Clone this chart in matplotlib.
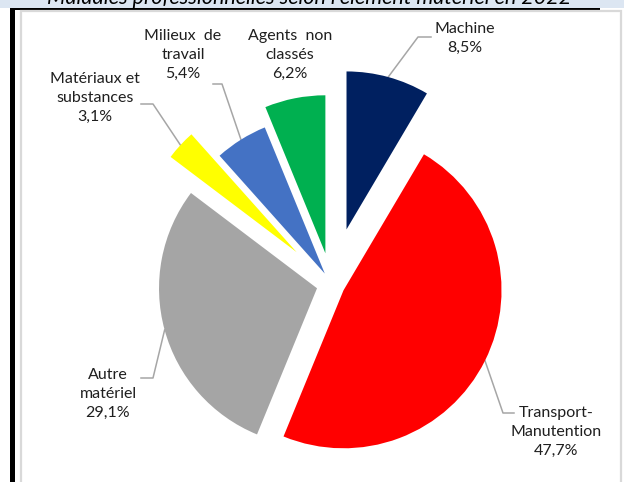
import numpy as np
import matplotlib.pyplot as plt
from matplotlib.patches import Rectangle

# shares by "élément matériel", clockwise from 12 o'clock
categories = ["Machine", "Transport-\nManutention", "Autre\nmatériel",
              "Matériaux et\nsubstances", "Milieux  de\ntravail", "Agents  non\nclassés"]
shares = [8.5, 47.7, 29.1, 3.1, 5.4, 6.2]
colors = ["#002060", "#FF0000", "#A5A5A5", "#FFFF00", "#4472C4", "#00B050"]
explode = [0.36, 0.085, 0.095, 0.30, 0.08, 0.20]
title = "Maladies professionnelles selon l'élément matériel en 2022"

W, H = 624, 482
fig = plt.figure(figsize=(W / 100, H / 100), dpi=100)
ax = fig.add_axes([0, 0, 1, 1])


def py(y):
    # top-down pixel row -> data y
    return H - y


# page furniture: caption band, black rule, light chart frame
ax.add_patch(Rectangle((0, py(8)), W, 8, facecolor="#DCE6F2", edgecolor="none", zorder=0))
ax.add_patch(Rectangle((10, py(10)), 590, 2.5, facecolor="black", edgecolor="none", zorder=1))
ax.add_patch(Rectangle((10, 0), 4.5, py(8), facecolor="black", edgecolor="none", zorder=1))
ax.add_patch(Rectangle((21, -10), 600, py(11) + 10, facecolor="white",
                       edgecolor="#D9D9D9", linewidth=1.6, zorder=1))
ax.text(309, py(3.5), title, ha="center", va="baseline", fontsize=15.5,
        style="italic", family="Lato", color="black", zorder=0.5)

center = (331.5, py(284.3))
radius = 158
# pie offsets are in data units, so scale the fractions by the radius
wedges, _ = ax.pie(shares, colors=colors, explode=[e * radius for e in explode],
                   startangle=90, counterclock=False, radius=radius, center=center,
                   wedgeprops=dict(linewidth=0), frame=True)
for w in wedges:
    w.set_zorder(3)

# label block centre, leader start, leader knee (pixel rows from top)
label_pos = [
    ((465, 38), (431, 37), (418, 37)),
    ((556, 432), (514, 413), (503, 413)),
    ((108, 394), (141, 378), (153, 378)),
    ((95, 98), (141, 104), (153, 104)),
    ((183, 55), (213, 84), (222, 84)),
    ((290, 55), None, None),
]

for w, name, val, (txt, start, knee) in zip(wedges, categories, shares, label_pos):
    label = f"{name}\n{val:.1f}%".replace(".", ",")
    ax.text(txt[0], py(txt[1]), label, ha="center", va="center", fontsize=11.5,
            family="Lato", color="#1f1f1f", linespacing=1.45, zorder=4)
    if start is None:
        continue
    mid = np.deg2rad((w.theta1 + w.theta2) / 2)
    cx, cy = w.center
    end = (cx + w.r * np.cos(mid), cy + w.r * np.sin(mid))
    ax.plot([start[0], knee[0], end[0]], [py(start[1]), py(knee[1]), end[1]],
            color="#A6A6A6", linewidth=1.1, zorder=2)

ax.set_xlim(0, W)
ax.set_ylim(0, H)
ax.set_aspect("auto")
ax.axis("off")
fig.savefig("out.png", dpi=100)
